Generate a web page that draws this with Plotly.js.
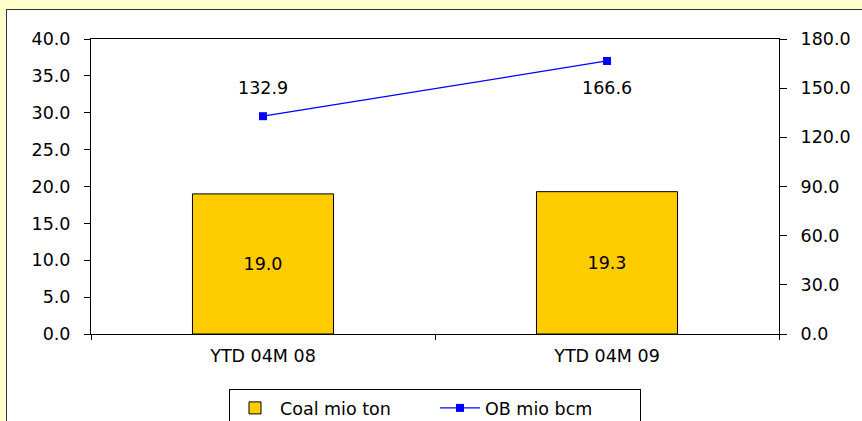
<!DOCTYPE html>
<html>
<head>
<meta charset="utf-8">
<script src="https://cdn.plot.ly/plotly-3.0.1.min.js"></script>
<style>
html,body{margin:0;padding:0;background:#FFFFCC;width:862px;height:421px;overflow:hidden;}
#frame{position:absolute;left:6px;top:9px;width:856px;height:412px;background:#fff;border-top:1px solid #333;border-left:1px solid #333;}
#chart{width:855px;height:411px;}
</style>
</head>
<body>
<div id="frame"><div id="chart"></div></div>
<script>
const categories = ["YTD 04M 08", "YTD 04M 09"];
const coalValues = [19.0, 19.3];
const obValues = [132.9, 166.6];
const obLabelShift = [28, -27];
const leftTicks = [0, 5, 10, 15, 20, 25, 30, 35, 40];
const rightTicks = [0, 30, 60, 90, 120, 150, 180];

const font = {family: "DejaVu Sans, Arial, sans-serif", size: 17.5, color: "#000"};

const traces = [
  {
    type: "bar", name: "Coal mio ton", x: categories, y: coalValues,
    marker: {color: "#FFCC00", line: {color: "#000", width: 1}},
    width: 0.41,
    text: coalValues.map(v => v.toFixed(1)), textposition: "inside",
    insidetextanchor: "middle", textfont: font, hoverinfo: "none"
  },
  {
    type: "scatter", mode: "lines+markers", name: "OB mio bcm",
    x: categories, y: obValues, yaxis: "y2",
    line: {color: "#0000FF", width: 1.2},
    marker: {symbol: "square", size: 8, color: "#0000FF"}
  }
];

const annotations = obValues.map((v, i) => ({
  x: categories[i], y: v, xref: "x", yref: "y2",
  text: v.toFixed(1), showarrow: false, yshift: obLabelShift[i], font: font
}));

const layout = {
  width: 855, height: 411,
  margin: {l: 84, r: 83, t: 29, b: 87},
  paper_bgcolor: "#fff", plot_bgcolor: "#fff",
  font: font,
  showlegend: true,
  bargap: 0.59,
  xaxis: {
    type: "category", showline: true, linecolor: "#000", linewidth: 1,
    mirror: true, ticks: "outside", ticklen: 5, tickson: "boundaries",
    tickcolor: "#000", showgrid: false, tickfont: font, automargin: false,
    ticklabelstandoff: 6
  },
  yaxis: {
    range: [0, 40], tickvals: leftTicks, tickformat: ".1f",
    showline: true, linecolor: "#000", linewidth: 1, ticks: "outside",
    ticklen: 6, tickcolor: "#000", showgrid: false, zeroline: false, tickfont: font,
    automargin: false, ticklabelstandoff: 10
  },
  yaxis2: {
    range: [0, 180], tickvals: rightTicks, tickformat: ".1f", overlaying: "y",
    side: "right", showline: true, linecolor: "#000", linewidth: 1,
    ticks: "outside", ticklen: 7, tickcolor: "#000", showgrid: false,
    zeroline: false, tickfont: font, automargin: false, ticklabelstandoff: 10
  },
  legend: {
    orientation: "h", x: 0.5, xanchor: "center", xref: "paper",
    y: 0.0778, yanchor: "top", yref: "container",
    bordercolor: "#000", borderwidth: 1, bgcolor: "#fff", font: font,
    traceorder: "normal", itemwidth: 40, entrywidth: 150, entrywidthmode: "pixels"
  },
  annotations: annotations
};

Plotly.newPlot("chart", traces, layout, {displayModeBar: false, staticPlot: true});
</script>
</body>
</html>
